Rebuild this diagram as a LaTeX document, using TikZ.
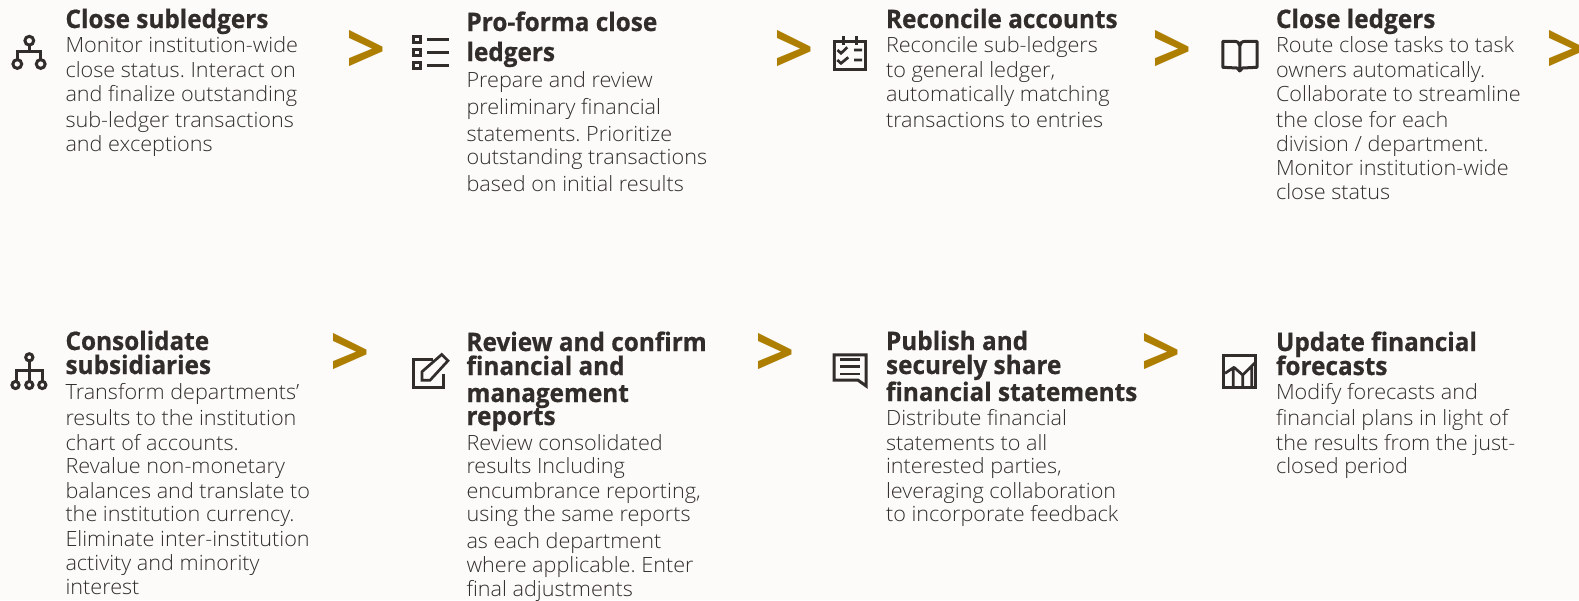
\documentclass[tikz,border=0pt]{standalone}
\usepackage{fontspec}
\setmainfont{Open Sans}
\newfontfamily\bodyfont{Open Sans Light}[FakeStretch=1.03]
\newfontfamily\titlefont{Open Sans}[FakeStretch=0.955,FakeBold=0.6,UprightFont=*-Bold]
\newfontfamily\chevfont{Open Sans}[UprightFont=*-Bold]
\frenchspacing
\definecolor{ink}{HTML}{312D2A}
\definecolor{bodyink}{HTML}{312D2A}
\definecolor{gold}{HTML}{AE7E00}
\definecolor{paper}{HTML}{FCFBFA}
% a block of lines with fixed baselines: every break is \\[extra gap]
\newcommand\blk[1]{\vtop{\baselineskip=23pt\lineskiplimit=-100pt\frenchspacing
  \def\\[##1]{\egroup\kern##1\relax\hbox\bgroup}\hbox\bgroup #1\egroup}}
\tikzset{
  bodytext/.style={anchor=base west,inner sep=0pt,outer sep=0pt,text=bodyink,font=\bodyfont\fontsize{21}{23}\selectfont},
  titletext/.style={anchor=base west,inner sep=0pt,outer sep=0pt,text=ink,font=\titlefont\fontsize{25.5}{23}\selectfont},
  chev/.style={anchor=base,inner sep=0pt,outer sep=0pt,text=gold,font=\chevfont\fontsize{69}{69}\selectfont},
  icon/.style={draw=ink,line width=3pt,fill=none,line join=miter},
  iconthin/.style={draw=ink,line width=2.7pt,fill=none},
}
\begin{document}
\begin{tikzpicture}[x=1pt,y=-1pt]
\fill[paper] (0,0) rectangle (1579,600);
\useasboundingbox (0,0) rectangle (1579,600);
% column 1, top
\node[titletext] (t1) at (65.5,28) {\blk{Close subledgers}};
\node[bodytext] (b1) at (65.5,52) {\blk{Monitor institution-wide\\[2pt]close status. Interact on\\[1pt]and finalize outstanding\\[3pt]sub-ledger transactions\\[1pt]and exceptions}};
% column 2, top
\node[titletext] (t2) at (466.5,31) {\blk{Pro-forma close\\[7pt]ledgers}};
\node[bodytext] (b2) at (466.5,87) {\blk{Prepare and review\\[4pt]preliminary financial\\[4pt]statements. Prioritize\\[0pt]outstanding transactions\\[4pt]based on initial results}};
% column 3, top
\node[titletext] (t3) at (886,28) {\blk{Reconcile accounts}};
\node[bodytext] (b3) at (886,52) {\blk{Reconcile sub-ledgers\\[2pt]to general ledger,\\[1pt]automatically matching\\[3pt]transactions to entries}};
% column 4, top
\node[titletext] (t4) at (1276,28) {\blk{Close ledgers}};
\node[bodytext] (b4) at (1276,52) {\blk{Route close tasks to task\\[2pt]owners automatically.\\[1pt]Collaborate to streamline\\[3pt]the close for each\\[1pt]division / department.\\[1pt]Monitor institution-wide\\[1pt]close status}};
% column 1, bottom
\node[titletext] (t5) at (65.5,350) {\blk{Consolidate\\[1pt]subsidiaries}};
\node[bodytext] (b5) at (65.5,399) {\blk{Transform departments’\\[3pt]results to the institution\\[2pt]chart of accounts.\\[0pt]Revalue non-monetary\\[2pt]balances and translate to\\[0pt]the institution currency.\\[2pt]Eliminate inter-institution\\[1pt]activity and minority\\[1pt]interest}};
% column 2, bottom
\node[titletext] (t6) at (466.5,351) {\blk{Review and confirm\\[1pt]financial and\\[4pt]management\\[0pt]reports}};
\node[bodytext] (b6) at (466.5,450) {\blk{Review consolidated\\[0pt]results Including\\[2pt]encumbrance reporting,\\[0pt]using the same reports\\[4pt]as each department\\[1pt]where applicable. Enter\\[1pt]final adjustments}};
% column 3, bottom
\node[titletext] (t7) at (886,350) {\blk{Publish and\\[1pt]securely share\\[4pt]financial statements}};
\node[bodytext] (b7) at (886,425) {\blk{Distribute financial\\[2pt]statements to all\\[0pt]interested parties,\\[2pt]leveraging collaboration\\[0pt]to incorporate feedback}};
% column 4, bottom
\node[titletext] (t8) at (1276,351) {\blk{Update financial\\[1pt]forecasts}};
\node[bodytext] (b8) at (1276,399) {\blk{Modify forecasts and\\[3pt]financial plans in light of\\[2pt]the results from the just-\\[0pt]closed period}};
% chevrons
\node[chev] (c1) at (366.3,73) {>};
\node[chev] (c2) at (794.3,73) {>};
\node[chev] (c3) at (1172,73) {>};
\node[chev] (c4) at (1566,73) {>};
\node[chev] (c5) at (350.2,376) {>};
\node[chev] (c6) at (775.6,376) {>};
\node[chev] (c7) at (1160.8,376) {>};
% icon: hierarchy (top)
\draw[icon] (29.3,45.5) -- (29.3,51.7) (17.3,59) -- (17.3,51.7) -- (40.7,51.7) -- (40.7,59);
\draw[icon] (29.3,40.7) circle[radius=4.4] (17.3,64) circle[radius=4.4] (40.7,64) circle[radius=4.4];
% icon: list
\draw[icon] (413.6,36.5) rectangle (420.8,42.5) (413.6,49.3) rectangle (420.8,55.6) (413.6,62.5) rectangle (420.8,68.8);
\draw[icon] (427,39.5) -- (449,39.5) (427,52.5) -- (449,52.5) (427,65.7) -- (449,65.7);
% icon: calendar checklist
\draw[icon] (834.2,41.5) rectangle (865.8,69.7);
\draw[icon] (843.3,36) -- (843.3,45) (856.7,36) -- (856.7,45);
\draw[iconthin] (837.5,50) -- (841,53.3) -- (847.3,47.3) (837.3,60) -- (841,63.3) -- (848.3,57.3) (854,50) -- (862,50) (854,60) -- (862,60);
% icon: book
\draw[icon,line join=round] (1239.8,71) -- (1237,68) -- (1222.8,67.3) -- (1222.8,41.3) -- (1234,41.3) .. controls (1237.5,41.3) and (1239.8,43) .. (1239.8,46) .. controls (1239.8,43) and (1242,41.3) .. (1245.5,41.3) -- (1257,41.3) -- (1257,67.3) -- (1242.5,68) -- (1239.8,71) -- (1239.8,46);
% icon: org chart (bottom)
\draw[icon] (29.3,361) -- (29.3,381) (16,381) -- (16,370) -- (42.5,370) -- (42.5,381);
\draw[icon] (29.3,357.3) circle[radius=3.6] (15.5,385) circle[radius=3.6] (29.3,385) circle[radius=3.6] (42.3,385) circle[radius=3.6];
% icon: edit
\draw[icon] (433,359.2) -- (413.8,359.2) -- (413.8,387.8) -- (443.6,387.8) -- (443.6,373.5);
\draw[iconthin] (422,380.3) -- (422,371.7) -- (441.7,354.5) -- (448,360.7) -- (430,380.3) -- cycle;
% icon: speech bubble
\draw[icon] (834.2,354.8) -- (866.2,354.8) -- (866.2,386) -- (858,380.2) -- (834.2,380.2) -- cycle;
\draw[iconthin] (840,359.8) -- (860,359.8) (840,366.7) -- (860,366.7) (840,374) -- (860,374);
% icon: chart
\draw[icon] (1223.8,355.5) rectangle (1255.8,387.5);
\draw[iconthin,line join=round] (1225,373.3) -- (1234,367.3) -- (1242.7,375) -- (1255,362.7) (1233.3,367.3) -- (1233.3,387) (1242.7,375) -- (1242.7,387) (1251.7,367) -- (1251.7,387);
\end{tikzpicture}
\end{document}
